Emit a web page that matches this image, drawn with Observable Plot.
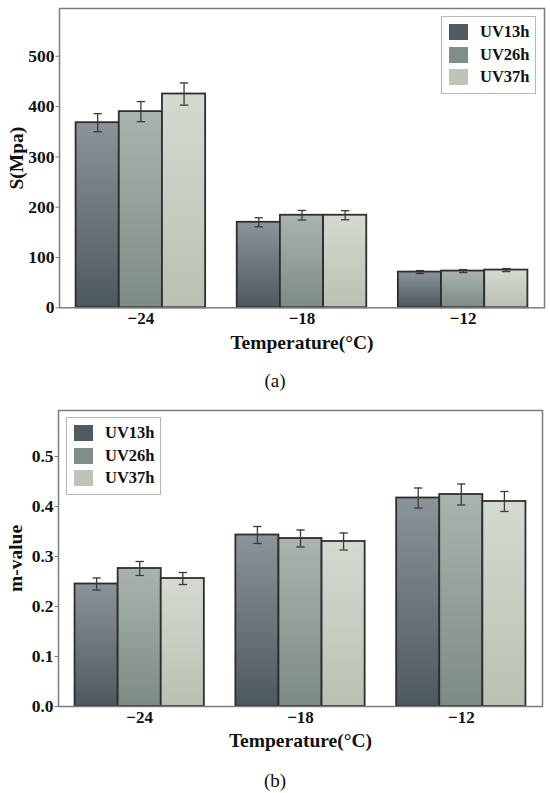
<!DOCTYPE html>
<html>
<head>
<meta charset="utf-8">
<script src="https://cdn.jsdelivr.net/npm/d3@7"></script>
<script src="https://cdn.jsdelivr.net/npm/@observablehq/plot@0.6"></script>
<style>
  html, body { margin: 0; padding: 0; background: #fff; }
  #page { position: relative; width: 550px; height: 793px; overflow: hidden; font-family: "Liberation Serif", "Times New Roman", serif; color: #111; }
  .panel { position: absolute; left: 0; }
  .legend { position: absolute; border: 1px solid #b8b8b8; background: #fff; box-sizing: border-box; }
  .sw { position: absolute; width: 19px; height: 16px; }
  .lt { position: absolute; font-weight: bold; font-size: 16.5px; line-height: 16px; white-space: nowrap; }
  .cap { position: absolute; width: 550px; text-align: center; font-size: 19px; }
</style>
</head>
<body>
<div id="page"></div>
<script>
// ---------- data ----------
const temps = ["\u221224", "\u221218", "\u221212"];
const series = ["UV13h", "UV26h", "UV37h"];

// panel (a): S (MPa)
const sUV13h = [368, 170, 71];
const sUV26h = [390, 184, 73];
const sUV37h = [425, 184, 75];
const sErr13 = [18, 9, 3];
const sErr26 = [20, 9.5, 3];
const sErr37 = [22, 9, 3];
const sTicks = [0, 100, 200, 300, 400, 500];

// panel (b): m-value
const mUV13h = [0.245, 0.343, 0.417];
const mUV26h = [0.276, 0.336, 0.424];
const mUV37h = [0.256, 0.330, 0.410];
const mErr13 = [0.012, 0.017, 0.020];
const mErr26 = [0.014, 0.017, 0.021];
const mErr37 = [0.012, 0.017, 0.020];
const mTicks = [0, 0.1, 0.2, 0.3, 0.4, 0.5];

// colours (gradient top -> bottom) and legend swatches
const gradTop = ["#8c949a", "#aab4af", "#d5dad1"];
const gradBottom = ["#4c5860", "#7c8b84", "#b9c1b3"];
const swatch = ["#4f5b63", "#7f8f88", "#bcc5b8"];

const W = 0.268; // bar width (fraction of group step)
const FONT = '"Liberation Serif", "Times New Roman", serif';

function rows(vals, errs) {
  const out = [];
  vals.forEach((arr, s) => arr.forEach((v, g) => out.push({g, s, v, e: errs[s][g]})));
  return out;
}

function gradientDefs(prefix) {
  return () => {
    const ns = "http://www.w3.org/2000/svg";
    const defs = document.createElementNS(ns, "defs");
    series.forEach((_, i) => {
      const lg = document.createElementNS(ns, "linearGradient");
      lg.setAttribute("id", prefix + i);
      lg.setAttribute("x1", "0"); lg.setAttribute("y1", "0");
      lg.setAttribute("x2", "0"); lg.setAttribute("y2", "1");
      [[0, gradTop[i]], [1, gradBottom[i]]].forEach(([o, c]) => {
        const st = document.createElementNS(ns, "stop");
        st.setAttribute("offset", o);
        st.setAttribute("stop-color", c);
        lg.appendChild(st);
      });
      defs.appendChild(lg);
    });
    return defs;
  };
}

function makeChart({data, prefix, yMax, yTicks, yFmt, yLabel, height, mt, mb, ml, mr}) {
  const center = d => d.g + (d.s - 1) * W;
  const barMarks = series.map((_, i) =>
    Plot.rect(data.filter(d => d.s === i), {
      x1: d => center(d) - W / 2,
      x2: d => center(d) + W / 2,
      y1: 0,
      y2: "v",
      fill: `url(#${prefix}${i})`,
      stroke: "#2e2e2e",
      strokeWidth: 1.8
    })
  );
  return Plot.plot({
    width: 550,
    height,
    marginTop: mt, marginBottom: mb, marginLeft: ml, marginRight: mr,
    style: {fontFamily: FONT, fontSize: "17px", fontWeight: "bold", color: "#111", background: "transparent", overflow: "visible"},
    x: {domain: [-0.505, 2.505]},
    y: {domain: [0, yMax]},
    marks: [
      gradientDefs(prefix),
      ...barMarks,
      Plot.ruleX(data, {x: center, y1: d => d.v - d.e, y2: d => d.v + d.e, stroke: "#3a3a3a", strokeWidth: 1.3}),
      Plot.link(data, {x1: d => center(d) - 0.026, x2: d => center(d) + 0.026, y1: d => d.v + d.e, y2: d => d.v + d.e, stroke: "#3a3a3a", strokeWidth: 1.3}),
      Plot.link(data, {x1: d => center(d) - 0.026, x2: d => center(d) + 0.026, y1: d => d.v - d.e, y2: d => d.v - d.e, stroke: "#3a3a3a", strokeWidth: 1.3}),
      Plot.frame({stroke: "#7c7c7c", strokeWidth: 1.5}),
      Plot.axisY({ticks: yTicks, tickFormat: yFmt, tickSize: 3.5, tickPadding: 1.5, stroke: "#7c7c7c", fontSize: 17.5, fontWeight: "bold", fill: "#111", label: null}),
      Plot.axisX({ticks: [0, 1, 2], tickFormat: i => temps[i], tickSize: 0, tickPadding: 4.5, fontSize: 17, fontWeight: "bold", fill: "#111", label: null}),
      Plot.text([yLabel], {frameAnchor: "left", dx: -43, rotate: -90, fontSize: 19.5, fontWeight: "bold", textAnchor: "middle", lineAnchor: "middle", fill: "#111"}),
      Plot.text(["Temperature(\u00b0C)"], {frameAnchor: "bottom", dy: 34.5, fontSize: 19.5, fontWeight: "bold", textAnchor: "middle", lineAnchor: "middle", fill: "#111"})
    ]
  });
}

function legend(page, left, top) {
  const box = document.createElement("div");
  box.className = "legend";
  box.style.left = left + "px"; box.style.top = top + "px";
  box.style.width = "95px"; box.style.height = "78px";
  series.forEach((s, i) => {
    const sw = document.createElement("div");
    sw.className = "sw";
    sw.style.left = "7px"; sw.style.top = (7 + i * 22.7) + "px";
    sw.style.background = swatch[i];
    const t = document.createElement("div");
    t.className = "lt";
    t.style.left = "38px"; t.style.top = (7 + i * 22.7) + "px";
    t.textContent = s;
    box.appendChild(sw); box.appendChild(t);
  });
  page.appendChild(box);
}

const page = document.getElementById("page");

const chartA = makeChart({
  data: rows([sUV13h, sUV26h, sUV37h], [sErr13, sErr26, sErr37]),
  prefix: "ga", yMax: 595, yTicks: sTicks, yFmt: d3.format("d"), yLabel: "S(Mpa)",
  height: 360, mt: 8, mb: 52.7, ml: 59, mr: 6
});
chartA.classList.add("panel");
chartA.style.top = "0px";
page.appendChild(chartA);
legend(page, 441, 16);

const capA = document.createElement("div");
capA.className = "cap"; capA.style.top = "370px"; capA.textContent = "(a)";
page.appendChild(capA);

const chartB = makeChart({
  data: rows([mUV13h, mUV26h, mUV37h], [mErr13, mErr26, mErr37]),
  prefix: "gb", yMax: 0.592, yTicks: mTicks, yFmt: d3.format(".1f"), yLabel: "m-value",
  height: 360, mt: 10, mb: 54, ml: 58, mr: 8
});
chartB.classList.add("panel");
chartB.style.top = "400px";
page.appendChild(chartB);
legend(page, 66, 417);

const capB = document.createElement("div");
capB.className = "cap"; capB.style.top = "770px"; capB.textContent = "(b)";
page.appendChild(capB);
</script>
</body>
</html>
